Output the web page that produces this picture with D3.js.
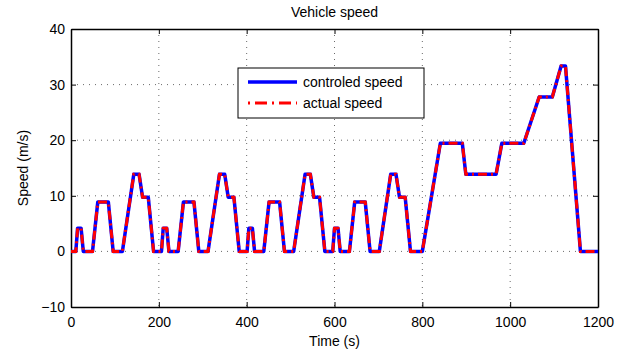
<!DOCTYPE html>
<html>
<head>
<meta charset="utf-8">
<script src="https://cdn.jsdelivr.net/npm/d3@7"></script>
<style>
  body { margin: 0; background: #fff; }
  text { font-family: "Liberation Sans", Arial, sans-serif; fill: #000; }
</style>
</head>
<body>
<svg id="chart"></svg>
<script>
const width = 640;
const height = 360;

const margin = { top: 29, right: 42, bottom: 53, left: 71 };

// NEDC breakpoints: time (s)
const times = [
  0, 11, 15, 23, 28, 49, 61, 85, 96, 117, 143, 155, 163, 176, 188,
  195, 206, 210, 218, 223, 244, 256, 280, 291, 312, 338, 350, 358, 371, 383,
  390, 401, 405, 413, 418, 439, 451, 475, 486, 507, 533, 545, 553, 566, 578,
  585, 596, 600, 608, 613, 634, 646, 670, 681, 702, 728, 740, 748, 761, 773,
  780, 800, 841, 891, 899, 968, 981, 1031, 1066, 1096, 1116, 1126, 1160, 1200
];
// speed (m/s)
const speeds = [
  0, 0, 4.17, 4.17, 0, 0, 8.89, 8.89, 0, 0, 13.89, 13.89, 9.72, 9.72, 0,
  0, 0, 4.17, 4.17, 0, 0, 8.89, 8.89, 0, 0, 13.89, 13.89, 9.72, 9.72, 0,
  0, 0, 4.17, 4.17, 0, 0, 8.89, 8.89, 0, 0, 13.89, 13.89, 9.72, 9.72, 0,
  0, 0, 4.17, 4.17, 0, 0, 8.89, 8.89, 0, 0, 13.89, 13.89, 9.72, 9.72, 0,
  0, 0, 19.44, 19.44, 13.89, 13.89, 19.44, 19.44, 27.78, 27.78, 33.33, 33.33, 0, 0
];

const xTicks = [0, 200, 400, 600, 800, 1000, 1200];
const yTicks = [-10, 0, 10, 20, 30, 40];
const seriesNames = ["controled speed", "actual speed"];

const data = times.map((t, i) => ({ t: t, v: speeds[i] }));

const svg = d3.select("#chart")
  .attr("width", width)
  .attr("height", height)
  .style("display", "block");

const innerWidth = width - margin.left - margin.right;
const innerHeight = height - margin.top - margin.bottom;

const graph = svg.append("g")
  .attr("transform", `translate(${margin.left}, ${margin.top})`);

const xScale = d3.scaleLinear().domain([0, 1200]).range([0, innerWidth]);
const yScale = d3.scaleLinear().domain([-10, 40]).range([innerHeight, 0]);

// grid
graph.append("g")
  .selectAll("line")
  .data(xTicks.slice(1, -1))
  .join("line")
  .attr("x1", d => xScale(d)).attr("x2", d => xScale(d))
  .attr("y1", 0).attr("y2", innerHeight)
  .attr("stroke", "#444").attr("stroke-width", 0.8)
  .attr("stroke-dasharray", "1,5");

graph.append("g")
  .selectAll("line")
  .data(yTicks.slice(1, -1))
  .join("line")
  .attr("x1", 0).attr("x2", innerWidth)
  .attr("y1", d => yScale(d)).attr("y2", d => yScale(d))
  .attr("stroke", "#444").attr("stroke-width", 0.8)
  .attr("stroke-dasharray", "1,5");

// axes, ticks pointing inwards
const xAxis = d3.axisBottom(xScale).tickValues(xTicks).tickSizeInner(-5).tickSizeOuter(0).tickPadding(10)
  .tickFormat(d => String(d));
const yAxis = d3.axisLeft(yScale).tickValues(yTicks).tickSizeInner(-5).tickSizeOuter(0).tickPadding(6)
  .tickFormat(d => d < 0 ? "\u2212" + Math.abs(d) : String(d));

graph.append("g")
  .attr("transform", `translate(0, ${innerHeight})`)
  .call(xAxis);
graph.append("g").call(yAxis);

// top and right box edges with ticks, no labels
const gt = graph.append("g")
  .call(d3.axisTop(xScale).tickValues(xTicks).tickSizeInner(-5).tickSizeOuter(0));
const gr = graph.append("g")
  .attr("transform", `translate(${innerWidth}, 0)`)
  .call(d3.axisRight(yScale).tickValues(yTicks).tickSizeInner(-5).tickSizeOuter(0));
gt.selectAll("text").remove();
gr.selectAll("text").remove();

graph.selectAll(".domain").attr("stroke", "#000").attr("stroke-width", 1.5);
graph.selectAll(".tick line").attr("stroke", "#000");
graph.selectAll(".tick text").attr("font-size", 14).attr("font-family", "Liberation Sans, Arial, sans-serif");

// lines
const line = d3.line().x(d => xScale(d.t)).y(d => yScale(d.v));

graph.append("path")
  .datum(data)
  .attr("fill", "none")
  .attr("stroke", "#0000ff")
  .attr("stroke-width", 3.5)
  .attr("stroke-linejoin", "round")
  .attr("d", line);

graph.append("path")
  .datum(data)
  .attr("fill", "none")
  .attr("stroke", "#ff0000")
  .attr("stroke-width", 3)
  .attr("stroke-dasharray", "9,4,2,4")
  .attr("d", line);

// titles
svg.append("text")
  .attr("x", margin.left + innerWidth / 2)
  .attr("y", 17)
  .attr("text-anchor", "middle")
  .attr("font-size", 14)
  .text("Vehicle speed");

svg.append("text")
  .attr("x", margin.left + innerWidth / 2)
  .attr("y", 346)
  .attr("text-anchor", "middle")
  .attr("font-size", 14)
  .text("Time (s)");

svg.append("text")
  .attr("transform", `translate(28, ${margin.top + innerHeight / 2}) rotate(-90)`)
  .attr("text-anchor", "middle")
  .attr("font-size", 14)
  .text("Speed (m/s)");

// legend
const legend = svg.append("g").attr("transform", "translate(238, 68)");
legend.append("rect")
  .attr("width", 186).attr("height", 50)
  .attr("fill", "#fff").attr("stroke", "#000").attr("stroke-width", 1);

legend.append("line")
  .attr("x1", 10).attr("x2", 59).attr("y1", 14).attr("y2", 14)
  .attr("stroke", "#0000ff").attr("stroke-width", 3.5);
legend.append("line")
  .attr("x1", 10).attr("x2", 59).attr("y1", 35).attr("y2", 35)
  .attr("stroke", "#ff0000").attr("stroke-width", 3)
  .attr("stroke-dasharray", "2,5,12,5");

legend.selectAll("text.lab")
  .data(seriesNames)
  .join("text")
  .attr("class", "lab")
  .attr("x", 65)
  .attr("y", (d, i) => 19 + i * 21)
  .attr("font-size", 14)
  .text(d => d);
</script>
</body>
</html>
